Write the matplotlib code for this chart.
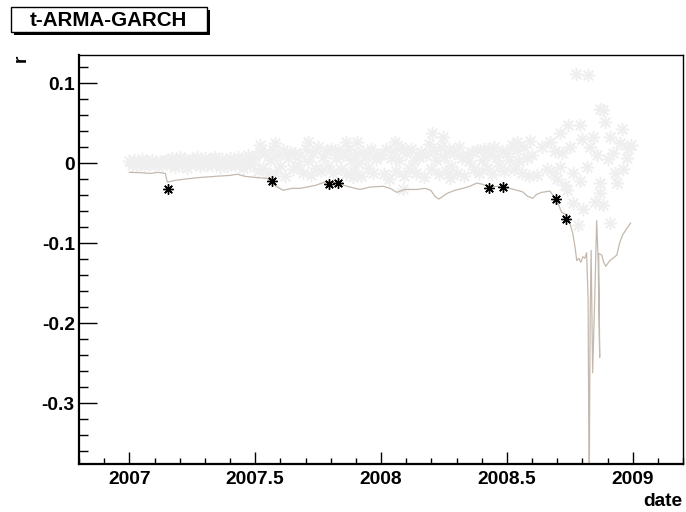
import matplotlib
matplotlib.use('Agg')
import matplotlib.pyplot as plt
from matplotlib.patches import Rectangle
from matplotlib.ticker import MultipleLocator, FuncFormatter

W, H = 686, 512

# daily returns (light grey cloud)
ret_date = [
    2007.00, 2007.01, 2007.02, 2007.03, 2007.04, 2007.05, 2007.06, 2007.07, 2007.08, 2007.09,
    2007.10, 2007.11, 2007.12, 2007.13, 2007.14, 2007.15, 2007.16, 2007.17, 2007.18, 2007.19,
    2007.20, 2007.21, 2007.22, 2007.23, 2007.24, 2007.25, 2007.26, 2007.27, 2007.28, 2007.29,
    2007.30, 2007.31, 2007.32, 2007.33, 2007.34, 2007.35, 2007.36, 2007.37, 2007.38, 2007.39,
    2007.40, 2007.41, 2007.42, 2007.43, 2007.44, 2007.45, 2007.46, 2007.47, 2007.48, 2007.49,
    2007.50, 2007.51, 2007.52, 2007.53, 2007.54, 2007.55, 2007.56, 2007.57, 2007.58, 2007.59,
    2007.60, 2007.61, 2007.62, 2007.63, 2007.64, 2007.65, 2007.66, 2007.67, 2007.68, 2007.69,
    2007.70, 2007.71, 2007.72, 2007.73, 2007.74, 2007.75, 2007.76, 2007.77, 2007.78, 2007.79,
    2007.80, 2007.81, 2007.82, 2007.83, 2007.84, 2007.85, 2007.86, 2007.87, 2007.88, 2007.89,
    2007.90, 2007.91, 2007.92, 2007.93, 2007.94, 2007.95, 2007.96, 2007.97, 2007.98, 2007.99,
    2008.00, 2008.01, 2008.02, 2008.03, 2008.04, 2008.05, 2008.06, 2008.07, 2008.08, 2008.09,
    2008.10, 2008.11, 2008.12, 2008.13, 2008.14, 2008.15, 2008.16, 2008.17, 2008.18, 2008.19,
    2008.20, 2008.21, 2008.22, 2008.23, 2008.24, 2008.25, 2008.26, 2008.27, 2008.28, 2008.29,
    2008.30, 2008.31, 2008.32, 2008.33, 2008.34, 2008.35, 2008.36, 2008.37, 2008.38, 2008.39,
    2008.40, 2008.41, 2008.42, 2008.43, 2008.44, 2008.45, 2008.46, 2008.47, 2008.48, 2008.49,
    2008.50, 2008.51, 2008.52, 2008.53, 2008.54, 2008.55, 2008.56, 2008.57, 2008.58, 2008.59,
    2008.600, 2008.620, 2008.640, 2008.660, 2008.671, 2008.683, 2008.690, 2008.700, 2008.710, 2008.710,
    2008.720, 2008.730, 2008.738, 2008.742, 2008.750, 2008.762, 2008.762, 2008.774, 2008.782, 2008.790,
    2008.790, 2008.800, 2008.802, 2008.817, 2008.821, 2008.829, 2008.841, 2008.849, 2008.860, 2008.869,
    2008.869, 2008.869, 2008.881, 2008.881, 2008.889, 2008.900, 2008.909, 2008.909, 2008.921, 2008.930,
    2008.937, 2008.950, 2008.956, 2008.960, 2008.976, 2008.980, 2008.992,
    2007.52, 2007.58, 2007.71, 2007.86, 2007.889, 2007.905, 2008.056, 2008.087, 2008.202, 2008.246,
    2008.274, 2008.425, 2008.540, 2008.591,
]
ret_val = [
    0.003, -0.002, 0.004, -0.003, 0.001, 0.005, -0.004, 0.002, -0.001, 0.004,
    -0.003, 0.000, 0.003, -0.002, 0.002, 0.004, -0.003, 0.006, -0.005, 0.002,
    0.007, -0.002, 0.004, -0.006, 0.003, 0.005, -0.001, 0.008, -0.004, 0.002,
    0.006, -0.003, 0.004, -0.002, 0.007, 0.001, -0.005, 0.005, 0.003, -0.004,
    0.006, 0.000, -0.003, 0.008, 0.002, -0.006, 0.004, 0.010, -0.002, 0.005,
    0.008, -0.010, 0.014, -0.006, 0.012, -0.014, 0.004, 0.016, -0.012, 0.010,
    -0.004, 0.016, -0.016, 0.006, 0.014, -0.008, 0.012, -0.002, 0.010, -0.012,
    0.018, 0.002, -0.015, 0.012, -0.006, 0.020, -0.010, 0.008, 0.015, -0.004,
    0.017, -0.012, 0.006, 0.016, -0.008, 0.010, -0.014, 0.018, 0.004, -0.010,
    0.012, 0.000, -0.016, 0.014, 0.008, -0.006, 0.017, -0.012, 0.005, 0.010,
    0.010, -0.014, 0.018, -0.020, 0.006, 0.015, -0.010, 0.004, 0.020, -0.016,
    0.012, -0.006, 0.017, 0.002, -0.012, 0.008, 0.014, -0.018, 0.010, 0.024,
    -0.008, 0.016, 0.004, -0.014, 0.020, 0.008, -0.010, 0.018, -0.004, 0.012,
    -0.012, 0.020, 0.006, -0.016, 0.010, 0.002, 0.014, -0.008, 0.016, -0.012,
    0.004, 0.018, -0.006, 0.010, -0.014, 0.020, 0.008, -0.004, 0.015, -0.010,
    0.012, 0.004, 0.022, -0.008, 0.016, 0.002, -0.012, 0.020, 0.006, -0.016,
    0.010, -0.015, 0.020, -0.008, 0.026, -0.013, 0.015, -0.020, 0.037, -0.005,
    0.012, -0.028, -0.034, 0.047, 0.020, -0.013, -0.050, 0.111, -0.078, 0.048,
    -0.022, 0.030, -0.057, -0.005, 0.110, 0.020, 0.032, -0.049, 0.010, 0.067,
    -0.025, -0.037, 0.066, -0.053, 0.051, 0.005, 0.032, -0.075, 0.012, -0.012,
    -0.025, 0.025, 0.043, -0.007, 0.006, 0.018, 0.022,
    0.022, 0.025, 0.026, 0.026, -0.018, 0.026, 0.026, -0.032, 0.037, 0.032,
    -0.019, 0.018, 0.026, 0.028,
]

# estimated VaR line
var_date = [
    2007.000, 2007.044, 2007.083, 2007.115, 2007.143, 2007.151, 2007.183, 2007.222, 2007.282, 2007.341,
    2007.401, 2007.429, 2007.460, 2007.500, 2007.544, 2007.563, 2007.583, 2007.611, 2007.647, 2007.679,
    2007.706, 2007.738, 2007.766, 2007.786, 2007.810, 2007.837, 2007.877, 2007.917, 2007.956, 2008.008,
    2008.036, 2008.063, 2008.095, 2008.143, 2008.175, 2008.198, 2008.214, 2008.230, 2008.246, 2008.262,
    2008.294, 2008.325, 2008.353, 2008.381, 2008.405, 2008.433, 2008.460, 2008.484, 2008.512, 2008.540,
    2008.563, 2008.583, 2008.603, 2008.619, 2008.639, 2008.671, 2008.683, 2008.698, 2008.718, 2008.734,
    2008.750, 2008.762, 2008.770, 2008.778, 2008.786, 2008.794, 2008.802, 2008.810, 2008.817, 2008.823,
    2008.827, 2008.831, 2008.835, 2008.841, 2008.849, 2008.857, 2008.863, 2008.869, 2008.865, 2008.877,
    2008.885, 2008.893, 2008.909, 2008.921, 2008.937, 2008.948, 2008.960, 2008.976, 2008.992,
]
var_val = [
    -0.0116, -0.0120, -0.0130, -0.0116, -0.0130, -0.0238, -0.0216, -0.0200, -0.0180, -0.0166,
    -0.0154, -0.0140, -0.0166, -0.0180, -0.0190, -0.0216, -0.0290, -0.0340, -0.0316, -0.0316,
    -0.0300, -0.0280, -0.0250, -0.0229, -0.0240, -0.0266, -0.0300, -0.0330, -0.0300, -0.0290,
    -0.0316, -0.0366, -0.0330, -0.0330, -0.0316, -0.0340, -0.0416, -0.0450, -0.0416, -0.0380,
    -0.0340, -0.0316, -0.0290, -0.0250, -0.0266, -0.0300, -0.0290, -0.0300, -0.0316, -0.0340,
    -0.0360, -0.0416, -0.0440, -0.0390, -0.0366, -0.0350, -0.0400, -0.0466, -0.0616, -0.0640,
    -0.0750, -0.0880, -0.1030, -0.1220, -0.1190, -0.1240, -0.1170, -0.1190, -0.1120, -0.1720,
    -0.4200, -0.1970, -0.1090, -0.2620, -0.1720, -0.0720, -0.1220, -0.2430, -0.1130, -0.1150,
    -0.1240, -0.1290, -0.1220, -0.1190, -0.1150, -0.1000, -0.0900, -0.0820, -0.0750,
]

# returns below the VaR line
exc_date = [2007.154, 2007.566, 2007.794, 2007.829, 2008.430, 2008.483, 2008.694, 2008.737]
exc_val = [-0.0329, -0.0229, -0.0266, -0.0254, -0.0313, -0.0300, -0.0445, -0.0704]


def _fx(px):
    return px / W


def _fy(py):
    return 1 - py / H


def _fmt(v, pos):
    v = round(v, 4)
    if v == 0:
        return '0'
    return f'{v:g}'


def _draw(ax):
    ax.plot(ret_date, ret_val, linestyle='none', marker=(8, 2, 0), ms=9.5, mew=1.1,
            color='#efefef', zorder=1)
    ax.plot(var_date, var_val, color='#c4b9ae', lw=0.9, zorder=2)
    ax.plot(exc_date, exc_val, linestyle='none', marker=(8, 2, 0), ms=7.5, mew=1.0,
            color='black', zorder=3)


def _style(ax):
    ax.set_xlim(2006.80, 2009.20)
    ax.set_ylim(-0.376, 0.135)
    ax.xaxis.set_major_locator(MultipleLocator(0.5))
    ax.xaxis.set_minor_locator(MultipleLocator(0.1))
    ax.yaxis.set_major_locator(MultipleLocator(0.1))
    ax.yaxis.set_minor_locator(MultipleLocator(0.02))
    ax.xaxis.set_major_formatter(FuncFormatter(_fmt))
    ax.yaxis.set_major_formatter(FuncFormatter(_fmt))
    ax.tick_params(which='both', direction='in', top=False, right=False,
                   labelsize=13.8, width=1, color='black')
    ax.tick_params(axis='x', which='major', length=8.6, pad=5)
    ax.tick_params(axis='x', which='minor', length=4)
    ax.tick_params(axis='y', which='major', length=12.7, pad=3)
    ax.tick_params(axis='y', which='minor', length=6.5)
    for side in ['left', 'bottom']:
        ax.spines[side].set_linewidth(1.6)
    for side in ['top', 'right']:
        ax.spines[side].set_linewidth(1.0)


def _decorate(fig):
    shadow = Rectangle((_fx(14), _fy(35)), _fx(196), 25 / H, transform=fig.transFigure,
                       facecolor='black', edgecolor='none')
    box = Rectangle((_fx(11), _fy(32)), _fx(196), 25 / H, transform=fig.transFigure,
                    facecolor='white', edgecolor='black', lw=1.0)
    fig.patches.extend([shadow, box])
    fig.text(_fx(108), _fy(20), 't-ARMA-GARCH', ha='center', va='center',
             fontsize=14.8, fontweight='bold')
    fig.text(_fx(21), _fy(55), 'r', rotation=90, ha='center', va='top',
             fontsize=13.8, fontweight='bold')
    fig.text(_fx(682), _fy(501), 'date', ha='right', va='center',
             fontsize=13.8, fontweight='bold')


def main():
    plt.rcParams['font.family'] = ['Liberation Sans', 'DejaVu Sans']
    plt.rcParams['font.weight'] = 'bold'
    fig = plt.figure(figsize=(W / 100, H / 100), dpi=100)
    ax = fig.add_axes([_fx(79), _fy(464), _fx(683) - _fx(79), _fy(55) - _fy(464)])
    _draw(ax)
    _style(ax)
    _decorate(fig)
    fig.savefig('out.png', dpi=100)


if __name__ == '__main__':
    main()
